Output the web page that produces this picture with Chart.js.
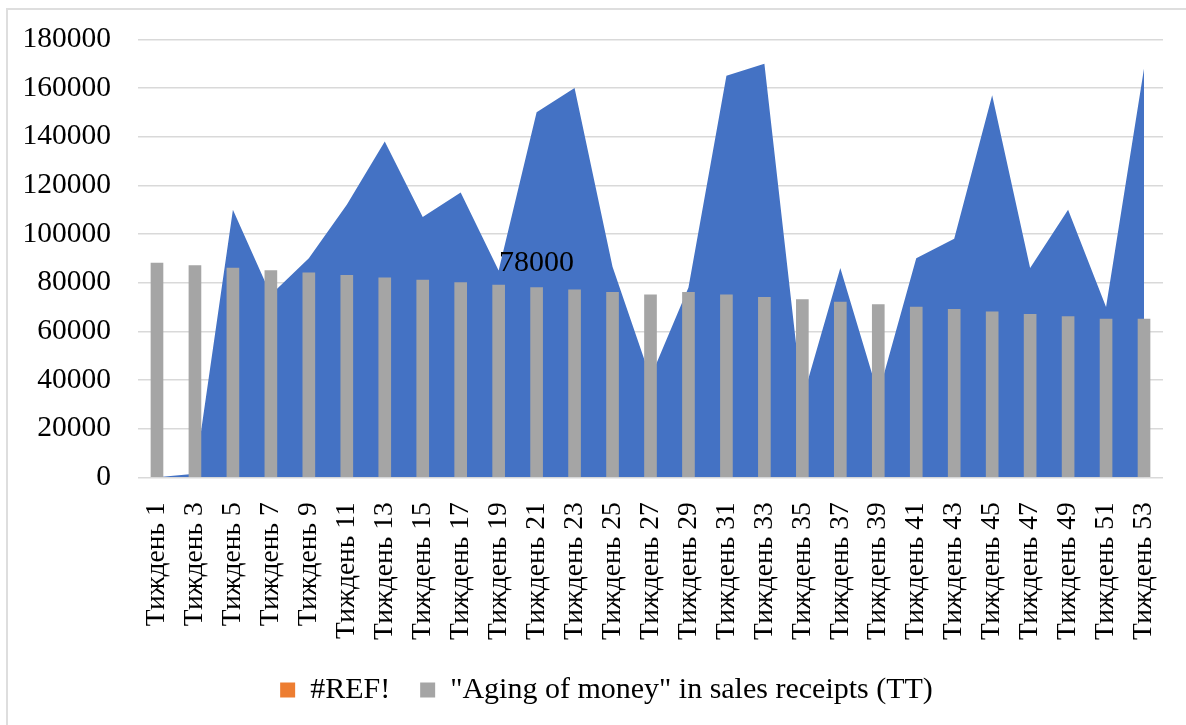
<!DOCTYPE html>
<html>
<head>
<meta charset="utf-8">
<script src="https://cdn.jsdelivr.net/npm/chart.js@4.4.1/dist/chart.umd.min.js"></script>
<style>
  html, body { margin: 0; padding: 0; background: #fff; }
  #wrap { position: relative; width: 1186px; height: 725px; overflow: hidden; }
  #frame { position: absolute; left: 6px; top: 8px; width: 1300px; height: 900px;
           border-left: 2px solid #dedede; border-top: 2px solid #dedede; }
  canvas { position: absolute; left: 0; top: 0; }
</style>
</head>
<body>
<div id="wrap"><div id="frame"></div><canvas id="chart" width="1186" height="725"></canvas></div>
<script>
const weeks = ['Тиждень 1','Тиждень 3','Тиждень 5','Тиждень 7','Тиждень 9','Тиждень 11','Тиждень 13',
  'Тиждень 15','Тиждень 17','Тиждень 19','Тиждень 21','Тиждень 23','Тиждень 25','Тиждень 27',
  'Тиждень 29','Тиждень 31','Тиждень 33','Тиждень 35','Тиждень 37','Тиждень 39','Тиждень 41',
  'Тиждень 43','Тиждень 45','Тиждень 47','Тиждень 49','Тиждень 51','Тиждень 53'];

// blue area (no legend entry)
const areaValues = [0, 1500, 110000, 75000, 90000, 112000, 138000, 107000, 117000, 85000, 150000,
  160000, 86500, 41000, 78000, 165000, 170000, 32000, 86000, 34000, 90000, 98000, 157000, 86000,
  110000, 70000, 168000];

// "Aging of money" bars
const agingValues = [88000, 87000, 86000, 85000, 84000, 83000, 82000, 81000, 80000, 79000, 78000,
  77000, 76000, 75000, 76000, 75000, 74000, 73000, 72000, 71000, 70000, 69000, 68000, 67000,
  66000, 65000, 65000];

// #REF! series is empty
const refValues = weeks.map(() => null);

const refLabel = '#REF!';
const agingLabel = '"Aging of money" in sales receipts (TT)';
const labeledWeeks = ['Тиждень 21'];

const yMin = 0, yMax = 180000, yStep = 20000;

Chart.defaults.font.family = "'Liberation Serif', 'Times New Roman', serif";
Chart.defaults.font.size = 28;
Chart.defaults.color = '#000';

const barLabels = {
  id: 'barLabels',
  afterDatasetsDraw(chart) {
    const meta = chart.getDatasetMeta(1);
    const ctx = chart.ctx;
    ctx.save();
    ctx.font = "30px 'Liberation Serif', serif";
    ctx.fillStyle = '#000';
    ctx.textAlign = 'center';
    ctx.textBaseline = 'alphabetic';
    labeledWeeks.forEach(w => {
      const i = weeks.indexOf(w);
      const el = meta.data[i];
      ctx.fillText(String(agingValues[i]), el.x, el.y - 17);
    });
    ctx.restore();
  }
};

// move the legend a bit to the right, like the Excel one
const legendShift = {
  id: 'legendShift',
  afterLayout(chart) {
    chart.legend.left += 25;
    chart.legend.right += 25;
  }
};

new Chart(document.getElementById('chart'), {
  type: 'bar',
  data: {
    labels: weeks,
    datasets: [
      {
        label: refLabel,
        data: refValues,
        backgroundColor: '#ED7D31',
        grouped: false,
        order: 0
      },
      {
        label: agingLabel,
        data: agingValues,
        backgroundColor: '#A5A5A5',
        barThickness: 12,
        grouped: false,
        order: 1
      },
      {
        type: 'line',
        label: 'area',
        data: areaValues,
        fill: 'origin',
        backgroundColor: '#4472C4',
        borderColor: '#4472C4',
        borderWidth: 0,
        pointRadius: 0,
        tension: 0,
        order: 2
      }
    ]
  },
  options: {
    responsive: false,
    animation: false,
    devicePixelRatio: 1,
    layout: { padding: { top: 39.3, left: 0, right: 23, bottom: 10 } },
    plugins: {
      tooltip: { enabled: false },
      legend: {
        position: 'bottom',
        labels: {
          boxWidth: 15,
          boxHeight: 15,
          padding: 30,
          font: { size: 30 },
          filter: item => item.datasetIndex !== 2
        }
      }
    },
    scales: {
      x: {
        grid: { display: false },
        border: { display: false },
        ticks: { autoSkip: false, maxRotation: 90, minRotation: 90, padding: 17, font: { size: 27.5 } },
        afterFit(scale) {
          scale.height = 167.7;
          scale.paddingLeft = 0;
          scale.paddingRight = 0;
        }
      },
      y: {
        min: yMin,
        max: yMax,
        grid: { color: '#D9D9D9', lineWidth: 1.5, drawTicks: false },
        border: { display: false },
        ticks: { stepSize: yStep, padding: 27, font: { size: 29.5 }, callback: v => String(v) },
        afterFit(scale) {
          scale.width = 138;
          scale.paddingTop = 0;
          scale.paddingBottom = 0;
        }
      }
    }
  },
  plugins: [barLabels, legendShift]
});
</script>
</body>
</html>
